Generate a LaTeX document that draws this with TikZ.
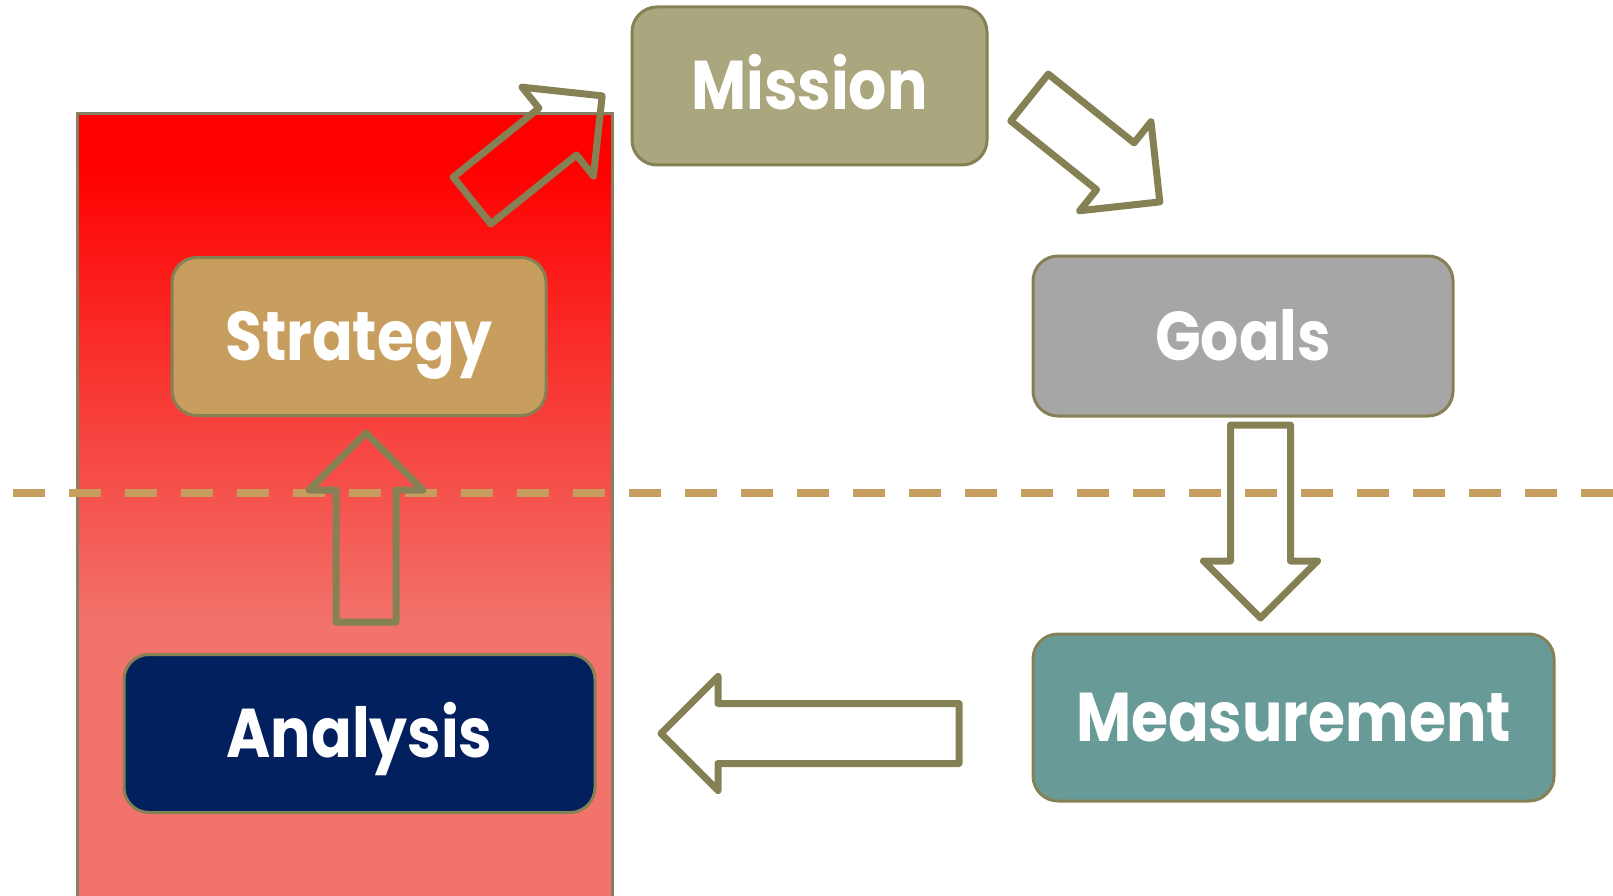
\documentclass[tikz,border=0pt]{standalone}
\usepackage{fontspec}
\newfontfamily\stagefont{Poppins}[FakeStretch=0.87]
\usepackage{tikz}
\usetikzlibrary{shapes.arrows,positioning}
\definecolor{olivegrey}{RGB}{134,129,84}
\definecolor{rimgrey}{RGB}{133,128,100}
\definecolor{missionfill}{RGB}{170,166,125}
\definecolor{strategyfill}{RGB}{200,158,95}
\definecolor{goalsfill}{RGB}{166,166,166}
\definecolor{measurefill}{RGB}{104,155,151}
\definecolor{analysisfill}{RGB}{2,31,94}
\definecolor{salmonpink}{RGB}{241,115,107}

\begin{document}
\begin{tikzpicture}[x=1pt,y=-1pt,
    stage/.style={draw=olivegrey, line width=3pt, rounded corners=25pt,
      text=white, font=\stagefont\bfseries\fontsize{69}{80}\selectfont,
      text height=48pt, text depth=0pt, inner sep=0pt, minimum height=158pt},
    blockarrow/.style={single arrow, draw=olivegrey, line width=7pt,
      line join=round, inner xsep=0pt, inner ysep=26.5pt, outer sep=0pt,
      minimum width=107pt, single arrow head extend=27pt, anchor=tail}]
  \useasboundingbox (0,0) rectangle (1613,896);

  % red column behind the lower stages
  \fill[red] (77,114) rectangle (612,165);
  \shade[top color=red, bottom color=salmonpink] (77,165) rectangle (612,625);
  \fill[salmonpink] (77,625) rectangle (612,905);
  \draw[rimgrey, line width=3pt] (77,905) -- (77,114) -- (612,114) -- (612,905);

  \draw[strategyfill, line width=7.5pt, dash pattern=on 32pt off 24pt]
    (13,493) -- (1613,493);

  \node[stage, fill=missionfill, minimum width=355pt] (mission) at (809.5,86) {Mission};
  \node[stage, fill=goalsfill, minimum width=420pt, minimum height=160pt] (goals) at (1243,336) {Goals};
  \node[stage, fill=strategyfill, minimum width=374pt] (strategy) at (359,336.5) {Strategy};
  \node[stage, fill=analysisfill, minimum width=471pt] (analysis) at (359.5,733.5) {Analysis};
  \node[stage, fill=measurefill, minimum width=521pt, minimum height=167pt] (measure) at (1293.5,717.5) {Measurement};

  \node[blockarrow, rotate=38.8, minimum height=167pt, minimum width=104pt] (toMission) at (472,200.5) {};
  \node[blockarrow, rotate=-38.7, minimum height=167pt, minimum width=104pt] (toGoals) at (1029.5,97.5) {};
  \node[blockarrow, rotate=-90, minimum height=193pt] (toMeasure) at (1260.5,425) {};
  \node[blockarrow, rotate=180, minimum height=298pt] (toAnalysis) at (959,733.5) {};
  \node[blockarrow, rotate=90, minimum height=189pt] (toStrategy) at (366,622) {};
\end{tikzpicture}
\end{document}
